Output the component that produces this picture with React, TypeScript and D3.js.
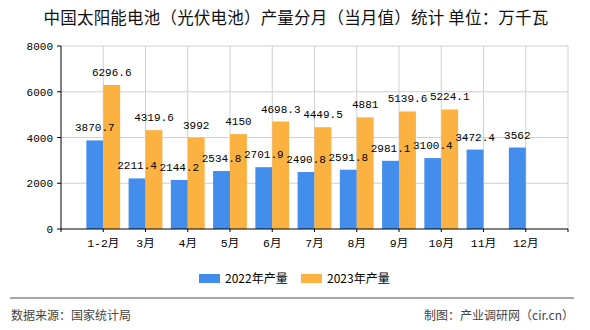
import React from "react";
import * as d3 from "d3";

const categories = ["1-2月", "3月", "4月", "5月", "6月", "7月", "8月", "9月", "10月", "11月", "12月"];
const values2022: number[] = [3870.7, 2211.4, 2144.2, 2534.8, 2701.9, 2490.8, 2591.8, 2981.1, 3100.4, 3472.4, 3562];
const values2023: (number | null)[] = [6296.6, 4319.6, 3992, 4150, 4698.3, 4449.5, 4881, 5139.6, 5224.1, null, null];
const yTicks = [0, 2000, 4000, 6000, 8000];
const seriesNames = ["2022年产量", "2023年产量"];
const title = "中国太阳能电池（光伏电池）产量分月（当月值）统计 单位：万千瓦";
const sourceText = "数据来源：国家统计局";
const makerText = "制图：产业调研网（cir.cn）";

const W = 590, H = 330;
const left = 61, right = 568, top = 46, bottom = 229;
const colors = ["#438DEC", "#FBB241"];
const monoFont = "'Liberation Mono', 'Noto Sans CJK SC', monospace";
const cjkFont = "'Noto Sans CJK SC', sans-serif";

export default function App() {
  const x = d3.scalePoint<string>().domain(["__s", ...categories, "__e"]).range([left, right]).padding(0);
  const step = x.step();
  const bw = step * 0.4;
  const y = d3.scaleLinear().domain([0, 8000]).range([bottom, top]);
  const fmt = (v: number) => String(v);

  return (
    <svg width={W} height={H} style={{ position: "absolute", left: 0, top: 0, background: "#fff" }}>
      <rect x={0} y={0} width={W} height={H} fill="#fff" />
      <text x={296} y={24} textAnchor="middle" fontSize={16.5} letterSpacing={0.2} fontFamily={cjkFont} fill="#111">{title}</text>

      {/* grid */}
      {yTicks.filter(t => t > 0).map(t => (
        <line key={"gy" + t} x1={left} x2={right} y1={y(t)} y2={y(t)} stroke="#d0d0d0" strokeWidth={1} />
      ))}
      {[...categories, "__e"].map(c => (
        <line key={"gx" + c} x1={x(c)!} x2={x(c)!} y1={top} y2={bottom} stroke="#d0d0d0" strokeWidth={1} />
      ))}

      {/* bars */}
      {categories.map((c, i) => {
        const cx = x(c)!;
        const v1 = values2022[i];
        const v2 = values2023[i];
        return (
          <g key={"b" + c}>
            <rect x={cx - bw} y={y(v1)} width={bw} height={bottom - y(v1)} fill={colors[0]} />
            {v2 != null && <rect x={cx} y={y(v2)} width={bw} height={bottom - y(v2)} fill={colors[1]} />}
          </g>
        );
      })}
      {categories.map((c, i) => {
        const cx = x(c)!;
        const v1 = values2022[i];
        const v2 = values2023[i];
        return (
          <g key={"l" + c} fontFamily={monoFont} fontSize={11} fill="#000" textAnchor="middle">
            <text x={cx - bw / 2} y={y(v1) - 9}>{fmt(v1)}</text>
            {v2 != null && <text x={cx + bw / 2} y={y(v2) - 9}>{fmt(v2)}</text>}
          </g>
        );
      })}

      {/* axes */}
      <line x1={left} x2={left} y1={top} y2={bottom + 3} stroke="#000" />
      <line x1={left} x2={right} y1={bottom} y2={bottom} stroke="#000" />
      {yTicks.map(t => (
        <g key={"yt" + t}>
          <line x1={left - 4} x2={left} y1={y(t)} y2={y(t)} stroke="#000" />
          <text x={left - 8} y={y(t) + 4} textAnchor="end" fontFamily={monoFont} fontSize={11} fill="#000">{t}</text>
        </g>
      ))}
      {[...categories, "__e"].map(c => (
        <line key={"xt" + c} x1={x(c)!} x2={x(c)!} y1={bottom} y2={bottom + 3} stroke="#000" />
      ))}
      {categories.map(c => (
        <text key={"xl" + c} x={x(c)!} y={bottom + 18} textAnchor="middle" fontFamily={monoFont} fontSize={11.5} fill="#000">{c}</text>
      ))}

      {/* legend */}
      {seriesNames.map((n, i) => (
        <g key={"lg" + n}>
          <rect x={199 + i * 102} y={274} width={21} height={9} fill={colors[i]} />
          <text x={225 + i * 102} y={283} fontFamily={cjkFont} fontSize={12} fill="#000">{n}</text>
        </g>
      ))}

      {/* footer */}
      <line x1={10} x2={574} y1={298} y2={298} stroke="#888" strokeWidth={1.5} />
      <text x={11} y={320} fontFamily={cjkFont} fontSize={12} fill="#444">{sourceText}</text>
      <text x={574} y={320} textAnchor="end" fontFamily={cjkFont} fontSize={12} fill="#444">{makerText}</text>
    </svg>
  );
}
